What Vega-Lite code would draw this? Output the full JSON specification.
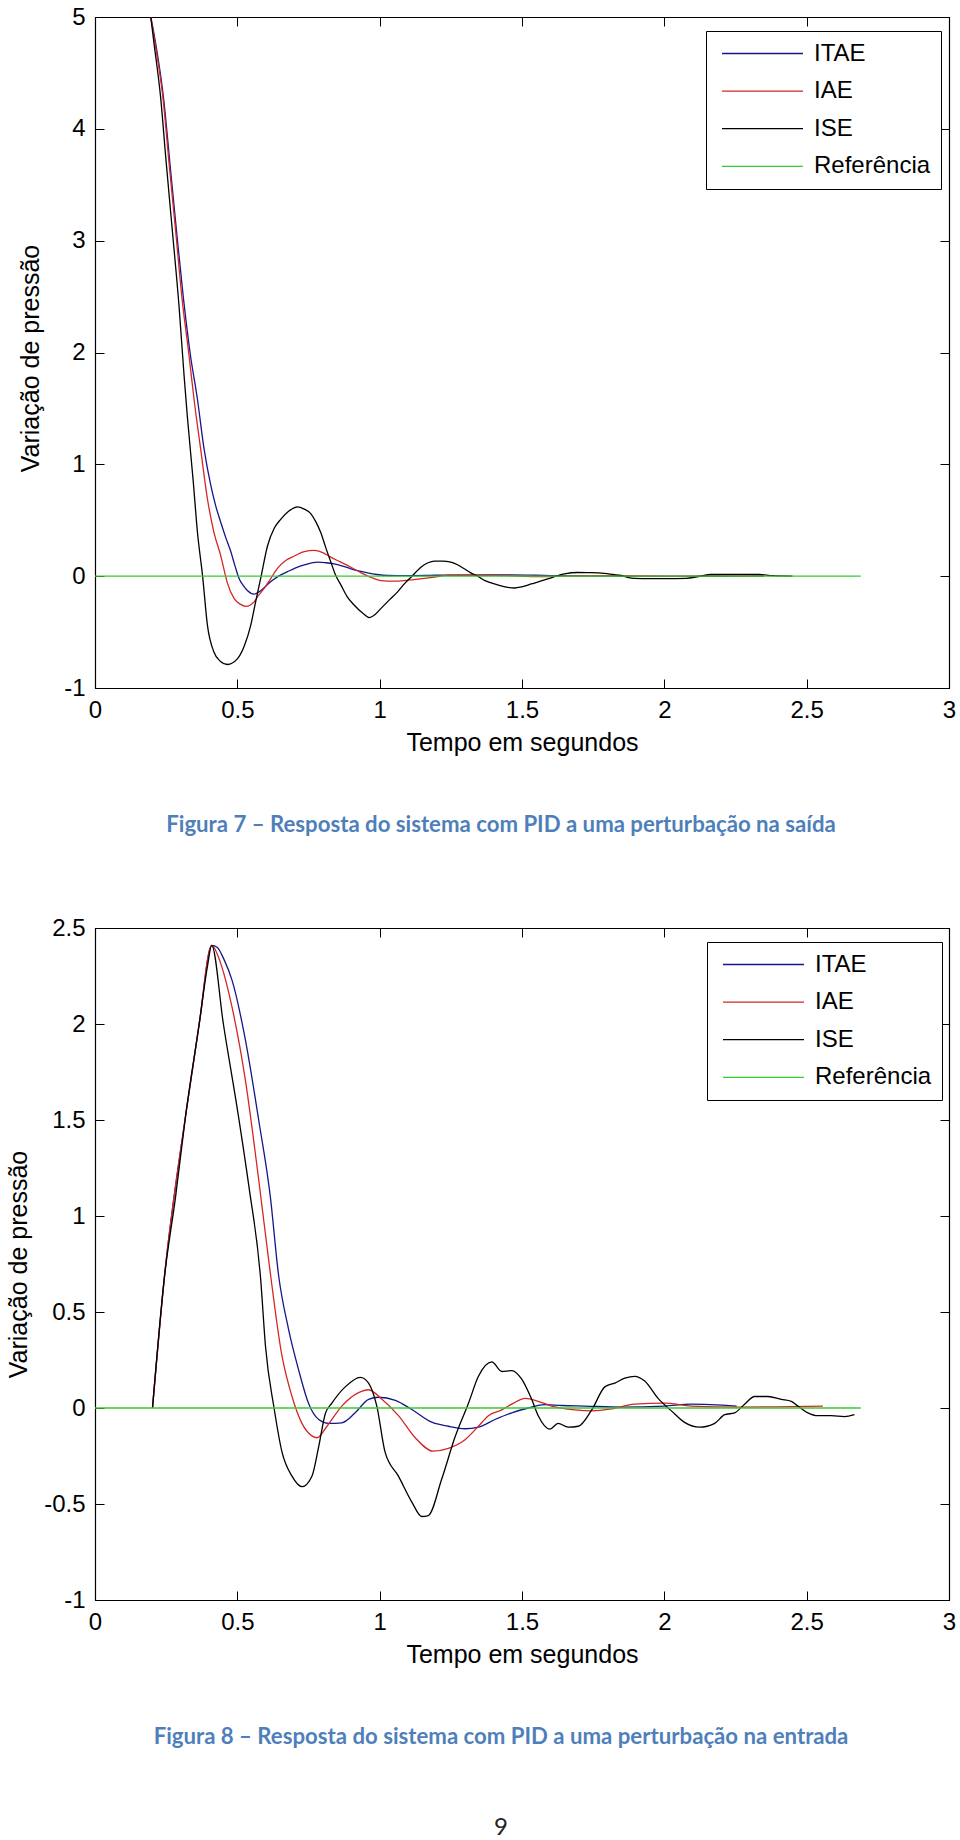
{
  "$schema": "https://vega.github.io/schema/vega-lite/v6.json",
  "background": "white",
  "padding": {"left": 6, "top": 4, "right": 5, "bottom": 0},
  "bounds": "flush",
  "spacing": 240,
  "resolve": {"scale": {"x": "independent", "y": "independent", "color": "independent"}, "legend": {"color": "independent"}, "axis": {"x": "independent", "y": "independent"}},
  "config": {
    "view": {"stroke": "black", "strokeWidth": 1},
    "axis": {"domainColor": "black", "domainWidth": 1.2, "tickColor": "black", "tickWidth": 1, "tickSize": -9, "labelFont": "Liberation Sans", "labelFontSize": 24, "labelColor": "black", "labelPadding": 19, "titleFont": "Liberation Sans", "titleFontSize": 25, "titleFontWeight": "normal", "titleColor": "black", "grid": false},
    "title": {"font": "Lato", "fontSize": 22.2, "fontWeight": "bold", "color": "#4f7fbb", "subtitleFont": "Lato", "subtitleFontSize": 24, "subtitleColor": "#222222"},
    "line": {"strokeWidth": 1.3}
  },
  "datasets": {
    "fig7": [
      {"serie": "ITAE", "t": 0.196, "v": 5.0}, {"serie": "ITAE", "t": 0.214, "v": 4.75}, {"serie": "ITAE", "t": 0.241, "v": 4.27}, {"serie": "ITAE", "t": 0.264, "v": 3.67}, {"serie": "ITAE", "t": 0.287, "v": 3.07}, {"serie": "ITAE", "t": 0.31, "v": 2.5}, {"serie": "ITAE", "t": 0.335, "v": 1.98}, {"serie": "ITAE", "t": 0.36, "v": 1.58}, {"serie": "ITAE", "t": 0.383, "v": 1.14}, {"serie": "ITAE", "t": 0.407, "v": 0.81}, {"serie": "ITAE", "t": 0.425, "v": 0.62}, {"serie": "ITAE", "t": 0.442, "v": 0.48}, {"serie": "ITAE", "t": 0.46, "v": 0.34}, {"serie": "ITAE", "t": 0.477, "v": 0.22}, {"serie": "ITAE", "t": 0.492, "v": 0.09}, {"serie": "ITAE", "t": 0.506, "v": -0.02}, {"serie": "ITAE", "t": 0.52, "v": -0.08}, {"serie": "ITAE", "t": 0.536, "v": -0.13}, {"serie": "ITAE", "t": 0.559, "v": -0.16}, {"serie": "ITAE", "t": 0.582, "v": -0.13}, {"serie": "ITAE", "t": 0.6, "v": -0.09}, {"serie": "ITAE", "t": 0.617, "v": -0.05}, {"serie": "ITAE", "t": 0.645, "v": 0.0}, {"serie": "ITAE", "t": 0.676, "v": 0.04}, {"serie": "ITAE", "t": 0.705, "v": 0.075}, {"serie": "ITAE", "t": 0.735, "v": 0.1}, {"serie": "ITAE", "t": 0.782, "v": 0.125}, {"serie": "ITAE", "t": 0.81, "v": 0.12}, {"serie": "ITAE", "t": 0.84, "v": 0.11}, {"serie": "ITAE", "t": 0.87, "v": 0.09}, {"serie": "ITAE", "t": 0.899, "v": 0.066}, {"serie": "ITAE", "t": 0.93, "v": 0.045}, {"serie": "ITAE", "t": 0.957, "v": 0.03}, {"serie": "ITAE", "t": 0.99, "v": 0.015}, {"serie": "ITAE", "t": 1.028, "v": 0.006}, {"serie": "ITAE", "t": 1.1, "v": 0.004}, {"serie": "ITAE", "t": 1.2, "v": 0.008}, {"serie": "ITAE", "t": 1.34, "v": 0.01}, {"serie": "ITAE", "t": 1.46, "v": 0.012}, {"serie": "ITAE", "t": 1.6, "v": 0.005}, {"serie": "ITAE", "t": 1.8, "v": 0.0}, {"serie": "ITAE", "t": 2.0, "v": -0.002}, {"serie": "ITAE", "t": 2.35, "v": 0.0},
      {"serie": "IAE", "t": 0.196, "v": 5.0}, {"serie": "IAE", "t": 0.212, "v": 4.75}, {"serie": "IAE", "t": 0.239, "v": 4.27}, {"serie": "IAE", "t": 0.261, "v": 3.67}, {"serie": "IAE", "t": 0.284, "v": 3.07}, {"serie": "IAE", "t": 0.305, "v": 2.5}, {"serie": "IAE", "t": 0.33, "v": 1.98}, {"serie": "IAE", "t": 0.348, "v": 1.58}, {"serie": "IAE", "t": 0.371, "v": 1.14}, {"serie": "IAE", "t": 0.395, "v": 0.69}, {"serie": "IAE", "t": 0.418, "v": 0.39}, {"serie": "IAE", "t": 0.442, "v": 0.18}, {"serie": "IAE", "t": 0.455, "v": 0.04}, {"serie": "IAE", "t": 0.465, "v": -0.06}, {"serie": "IAE", "t": 0.489, "v": -0.2}, {"serie": "IAE", "t": 0.51, "v": -0.25}, {"serie": "IAE", "t": 0.53, "v": -0.27}, {"serie": "IAE", "t": 0.559, "v": -0.23}, {"serie": "IAE", "t": 0.575, "v": -0.17}, {"serie": "IAE", "t": 0.594, "v": -0.11}, {"serie": "IAE", "t": 0.615, "v": -0.03}, {"serie": "IAE", "t": 0.641, "v": 0.07}, {"serie": "IAE", "t": 0.67, "v": 0.14}, {"serie": "IAE", "t": 0.7, "v": 0.18}, {"serie": "IAE", "t": 0.735, "v": 0.22}, {"serie": "IAE", "t": 0.77, "v": 0.23}, {"serie": "IAE", "t": 0.8, "v": 0.21}, {"serie": "IAE", "t": 0.828, "v": 0.17}, {"serie": "IAE", "t": 0.86, "v": 0.13}, {"serie": "IAE", "t": 0.899, "v": 0.08}, {"serie": "IAE", "t": 0.935, "v": 0.03}, {"serie": "IAE", "t": 0.969, "v": -0.01}, {"serie": "IAE", "t": 1.004, "v": -0.04}, {"serie": "IAE", "t": 1.05, "v": -0.045}, {"serie": "IAE", "t": 1.086, "v": -0.04}, {"serie": "IAE", "t": 1.12, "v": -0.03}, {"serie": "IAE", "t": 1.157, "v": -0.02}, {"serie": "IAE", "t": 1.2, "v": -0.005}, {"serie": "IAE", "t": 1.24, "v": 0.01}, {"serie": "IAE", "t": 1.3, "v": 0.012}, {"serie": "IAE", "t": 1.35, "v": 0.01}, {"serie": "IAE", "t": 1.45, "v": 0.005}, {"serie": "IAE", "t": 1.55, "v": -0.003}, {"serie": "IAE", "t": 1.65, "v": 0.0}, {"serie": "IAE", "t": 1.8, "v": 0.004}, {"serie": "IAE", "t": 2.0, "v": 0.0}, {"serie": "IAE", "t": 2.2, "v": 0.002}, {"serie": "IAE", "t": 2.35, "v": 0.0},
      {"serie": "ISE", "t": 0.196, "v": 5.0}, {"serie": "ISE", "t": 0.207, "v": 4.77}, {"serie": "ISE", "t": 0.231, "v": 4.27}, {"serie": "ISE", "t": 0.248, "v": 3.76}, {"serie": "ISE", "t": 0.272, "v": 3.08}, {"serie": "ISE", "t": 0.295, "v": 2.42}, {"serie": "ISE", "t": 0.313, "v": 1.79}, {"serie": "ISE", "t": 0.325, "v": 1.41}, {"serie": "ISE", "t": 0.345, "v": 0.85}, {"serie": "ISE", "t": 0.36, "v": 0.39}, {"serie": "ISE", "t": 0.378, "v": 0.0}, {"serie": "ISE", "t": 0.395, "v": -0.44}, {"serie": "ISE", "t": 0.418, "v": -0.68}, {"serie": "ISE", "t": 0.44, "v": -0.76}, {"serie": "ISE", "t": 0.465, "v": -0.79}, {"serie": "ISE", "t": 0.5, "v": -0.74}, {"serie": "ISE", "t": 0.525, "v": -0.62}, {"serie": "ISE", "t": 0.547, "v": -0.44}, {"serie": "ISE", "t": 0.565, "v": -0.22}, {"serie": "ISE", "t": 0.582, "v": -0.02}, {"serie": "ISE", "t": 0.606, "v": 0.27}, {"serie": "ISE", "t": 0.63, "v": 0.43}, {"serie": "ISE", "t": 0.653, "v": 0.51}, {"serie": "ISE", "t": 0.68, "v": 0.58}, {"serie": "ISE", "t": 0.711, "v": 0.62}, {"serie": "ISE", "t": 0.735, "v": 0.6}, {"serie": "ISE", "t": 0.758, "v": 0.56}, {"serie": "ISE", "t": 0.775, "v": 0.49}, {"serie": "ISE", "t": 0.793, "v": 0.39}, {"serie": "ISE", "t": 0.81, "v": 0.26}, {"serie": "ISE", "t": 0.828, "v": 0.13}, {"serie": "ISE", "t": 0.845, "v": 0.01}, {"serie": "ISE", "t": 0.864, "v": -0.08}, {"serie": "ISE", "t": 0.885, "v": -0.18}, {"serie": "ISE", "t": 0.911, "v": -0.26}, {"serie": "ISE", "t": 0.94, "v": -0.33}, {"serie": "ISE", "t": 0.963, "v": -0.37}, {"serie": "ISE", "t": 0.985, "v": -0.34}, {"serie": "ISE", "t": 1.004, "v": -0.29}, {"serie": "ISE", "t": 1.035, "v": -0.21}, {"serie": "ISE", "t": 1.063, "v": -0.14}, {"serie": "ISE", "t": 1.09, "v": -0.06}, {"serie": "ISE", "t": 1.11, "v": -0.01}, {"serie": "ISE", "t": 1.145, "v": 0.08}, {"serie": "ISE", "t": 1.17, "v": 0.12}, {"serie": "ISE", "t": 1.192, "v": 0.135}, {"serie": "ISE", "t": 1.22, "v": 0.135}, {"serie": "ISE", "t": 1.25, "v": 0.126}, {"serie": "ISE", "t": 1.275, "v": 0.1}, {"serie": "ISE", "t": 1.297, "v": 0.066}, {"serie": "ISE", "t": 1.32, "v": 0.03}, {"serie": "ISE", "t": 1.344, "v": 0.0}, {"serie": "ISE", "t": 1.37, "v": -0.04}, {"serie": "ISE", "t": 1.403, "v": -0.07}, {"serie": "ISE", "t": 1.44, "v": -0.095}, {"serie": "ISE", "t": 1.473, "v": -0.106}, {"serie": "ISE", "t": 1.5, "v": -0.095}, {"serie": "ISE", "t": 1.532, "v": -0.07}, {"serie": "ISE", "t": 1.565, "v": -0.045}, {"serie": "ISE", "t": 1.596, "v": -0.02}, {"serie": "ISE", "t": 1.62, "v": 0.0}, {"serie": "ISE", "t": 1.649, "v": 0.02}, {"serie": "ISE", "t": 1.696, "v": 0.033}, {"serie": "ISE", "t": 1.745, "v": 0.032}, {"serie": "ISE", "t": 1.79, "v": 0.025}, {"serie": "ISE", "t": 1.82, "v": 0.015}, {"serie": "ISE", "t": 1.848, "v": 0.006}, {"serie": "ISE", "t": 1.87, "v": -0.01}, {"serie": "ISE", "t": 1.895, "v": -0.02}, {"serie": "ISE", "t": 1.95, "v": -0.022}, {"serie": "ISE", "t": 2.0, "v": -0.022}, {"serie": "ISE", "t": 2.077, "v": -0.02}, {"serie": "ISE", "t": 2.12, "v": -0.003}, {"serie": "ISE", "t": 2.165, "v": 0.015}, {"serie": "ISE", "t": 2.25, "v": 0.016}, {"serie": "ISE", "t": 2.335, "v": 0.015}, {"serie": "ISE", "t": 2.38, "v": 0.004}, {"serie": "ISE", "t": 2.45, "v": 0.0},
      {"serie": "Referência", "t": 0.0, "v": 0.0}, {"serie": "Referência", "t": 2.69, "v": 0.0}
    ],
    "fig8": [
      {"serie": "ITAE", "t": 0.202, "v": 0.0}, {"serie": "ITAE", "t": 0.243, "v": 0.67}, {"serie": "ITAE", "t": 0.319, "v": 1.53}, {"serie": "ITAE", "t": 0.366, "v": 2.0}, {"serie": "ITAE", "t": 0.41, "v": 2.41}, {"serie": "ITAE", "t": 0.429, "v": 2.4}, {"serie": "ITAE", "t": 0.455, "v": 2.33}, {"serie": "ITAE", "t": 0.481, "v": 2.23}, {"serie": "ITAE", "t": 0.528, "v": 1.92}, {"serie": "ITAE", "t": 0.575, "v": 1.5}, {"serie": "ITAE", "t": 0.616, "v": 1.1}, {"serie": "ITAE", "t": 0.645, "v": 0.69}, {"serie": "ITAE", "t": 0.68, "v": 0.41}, {"serie": "ITAE", "t": 0.715, "v": 0.2}, {"serie": "ITAE", "t": 0.75, "v": 0.025}, {"serie": "ITAE", "t": 0.786, "v": -0.06}, {"serie": "ITAE", "t": 0.821, "v": -0.08}, {"serie": "ITAE", "t": 0.867, "v": -0.077}, {"serie": "ITAE", "t": 0.914, "v": -0.025}, {"serie": "ITAE", "t": 0.961, "v": 0.045}, {"serie": "ITAE", "t": 0.996, "v": 0.056}, {"serie": "ITAE", "t": 1.055, "v": 0.04}, {"serie": "ITAE", "t": 1.113, "v": -0.008}, {"serie": "ITAE", "t": 1.183, "v": -0.074}, {"serie": "ITAE", "t": 1.241, "v": -0.095}, {"serie": "ITAE", "t": 1.3, "v": -0.108}, {"serie": "ITAE", "t": 1.347, "v": -0.1}, {"serie": "ITAE", "t": 1.405, "v": -0.06}, {"serie": "ITAE", "t": 1.464, "v": -0.025}, {"serie": "ITAE", "t": 1.522, "v": 0.0}, {"serie": "ITAE", "t": 1.58, "v": 0.018}, {"serie": "ITAE", "t": 1.639, "v": 0.013}, {"serie": "ITAE", "t": 1.72, "v": 0.01}, {"serie": "ITAE", "t": 1.85, "v": 0.005}, {"serie": "ITAE", "t": 2.0, "v": 0.01}, {"serie": "ITAE", "t": 2.095, "v": 0.02}, {"serie": "ITAE", "t": 2.254, "v": 0.01},
      {"serie": "IAE", "t": 0.202, "v": 0.0}, {"serie": "IAE", "t": 0.243, "v": 0.67}, {"serie": "IAE", "t": 0.319, "v": 1.53}, {"serie": "IAE", "t": 0.366, "v": 2.0}, {"serie": "IAE", "t": 0.41, "v": 2.41}, {"serie": "IAE", "t": 0.417, "v": 2.4}, {"serie": "IAE", "t": 0.445, "v": 2.3}, {"serie": "IAE", "t": 0.481, "v": 2.09}, {"serie": "IAE", "t": 0.528, "v": 1.71}, {"serie": "IAE", "t": 0.575, "v": 1.19}, {"serie": "IAE", "t": 0.611, "v": 0.76}, {"serie": "IAE", "t": 0.657, "v": 0.27}, {"serie": "IAE", "t": 0.692, "v": 0.06}, {"serie": "IAE", "t": 0.727, "v": -0.08}, {"serie": "IAE", "t": 0.762, "v": -0.145}, {"serie": "IAE", "t": 0.78, "v": -0.155}, {"serie": "IAE", "t": 0.815, "v": -0.095}, {"serie": "IAE", "t": 0.867, "v": 0.01}, {"serie": "IAE", "t": 0.926, "v": 0.08}, {"serie": "IAE", "t": 0.961, "v": 0.095}, {"serie": "IAE", "t": 1.008, "v": 0.045}, {"serie": "IAE", "t": 1.066, "v": -0.04}, {"serie": "IAE", "t": 1.125, "v": -0.155}, {"serie": "IAE", "t": 1.188, "v": -0.225}, {"serie": "IAE", "t": 1.241, "v": -0.21}, {"serie": "IAE", "t": 1.3, "v": -0.165}, {"serie": "IAE", "t": 1.347, "v": -0.095}, {"serie": "IAE", "t": 1.382, "v": -0.04}, {"serie": "IAE", "t": 1.429, "v": -0.01}, {"serie": "IAE", "t": 1.464, "v": 0.02}, {"serie": "IAE", "t": 1.511, "v": 0.05}, {"serie": "IAE", "t": 1.557, "v": 0.035}, {"serie": "IAE", "t": 1.604, "v": 0.01}, {"serie": "IAE", "t": 1.686, "v": -0.01}, {"serie": "IAE", "t": 1.745, "v": -0.015}, {"serie": "IAE", "t": 1.815, "v": -0.005}, {"serie": "IAE", "t": 1.896, "v": 0.02}, {"serie": "IAE", "t": 2.001, "v": 0.025}, {"serie": "IAE", "t": 2.095, "v": 0.01}, {"serie": "IAE", "t": 2.259, "v": 0.005}, {"serie": "IAE", "t": 2.39, "v": 0.006}, {"serie": "IAE", "t": 2.557, "v": 0.01},
      {"serie": "ISE", "t": 0.202, "v": 0.0}, {"serie": "ISE", "t": 0.243, "v": 0.67}, {"serie": "ISE", "t": 0.283, "v": 1.1}, {"serie": "ISE", "t": 0.319, "v": 1.53}, {"serie": "ISE", "t": 0.366, "v": 2.0}, {"serie": "ISE", "t": 0.395, "v": 2.3}, {"serie": "ISE", "t": 0.41, "v": 2.41}, {"serie": "ISE", "t": 0.451, "v": 2.0}, {"serie": "ISE", "t": 0.506, "v": 1.5}, {"serie": "ISE", "t": 0.541, "v": 1.15}, {"serie": "ISE", "t": 0.582, "v": 0.67}, {"serie": "ISE", "t": 0.599, "v": 0.32}, {"serie": "ISE", "t": 0.629, "v": 0.0}, {"serie": "ISE", "t": 0.657, "v": -0.23}, {"serie": "ISE", "t": 0.692, "v": -0.355}, {"serie": "ISE", "t": 0.727, "v": -0.41}, {"serie": "ISE", "t": 0.762, "v": -0.355}, {"serie": "ISE", "t": 0.786, "v": -0.2}, {"serie": "ISE", "t": 0.809, "v": -0.03}, {"serie": "ISE", "t": 0.832, "v": 0.025}, {"serie": "ISE", "t": 0.879, "v": 0.11}, {"serie": "ISE", "t": 0.932, "v": 0.16}, {"serie": "ISE", "t": 0.961, "v": 0.13}, {"serie": "ISE", "t": 0.99, "v": 0.01}, {"serie": "ISE", "t": 1.019, "v": -0.23}, {"serie": "ISE", "t": 1.066, "v": -0.355}, {"serie": "ISE", "t": 1.113, "v": -0.49}, {"serie": "ISE", "t": 1.148, "v": -0.565}, {"serie": "ISE", "t": 1.171, "v": -0.56}, {"serie": "ISE", "t": 1.218, "v": -0.37}, {"serie": "ISE", "t": 1.265, "v": -0.15}, {"serie": "ISE", "t": 1.312, "v": 0.025}, {"serie": "ISE", "t": 1.347, "v": 0.165}, {"serie": "ISE", "t": 1.394, "v": 0.24}, {"serie": "ISE", "t": 1.429, "v": 0.19}, {"serie": "ISE", "t": 1.464, "v": 0.195}, {"serie": "ISE", "t": 1.499, "v": 0.15}, {"serie": "ISE", "t": 1.534, "v": 0.045}, {"serie": "ISE", "t": 1.557, "v": -0.04}, {"serie": "ISE", "t": 1.598, "v": -0.11}, {"serie": "ISE", "t": 1.627, "v": -0.08}, {"serie": "ISE", "t": 1.662, "v": -0.1}, {"serie": "ISE", "t": 1.698, "v": -0.095}, {"serie": "ISE", "t": 1.745, "v": -0.01}, {"serie": "ISE", "t": 1.791, "v": 0.11}, {"serie": "ISE", "t": 1.826, "v": 0.13}, {"serie": "ISE", "t": 1.861, "v": 0.155}, {"serie": "ISE", "t": 1.896, "v": 0.165}, {"serie": "ISE", "t": 1.931, "v": 0.14}, {"serie": "ISE", "t": 1.978, "v": 0.05}, {"serie": "ISE", "t": 2.025, "v": -0.015}, {"serie": "ISE", "t": 2.071, "v": -0.075}, {"serie": "ISE", "t": 2.124, "v": -0.1}, {"serie": "ISE", "t": 2.177, "v": -0.08}, {"serie": "ISE", "t": 2.212, "v": -0.035}, {"serie": "ISE", "t": 2.247, "v": -0.025}, {"serie": "ISE", "t": 2.282, "v": 0.02}, {"serie": "ISE", "t": 2.317, "v": 0.06}, {"serie": "ISE", "t": 2.364, "v": 0.06}, {"serie": "ISE", "t": 2.411, "v": 0.045}, {"serie": "ISE", "t": 2.446, "v": 0.035}, {"serie": "ISE", "t": 2.469, "v": 0.01}, {"serie": "ISE", "t": 2.504, "v": -0.025}, {"serie": "ISE", "t": 2.539, "v": -0.04}, {"serie": "ISE", "t": 2.586, "v": -0.04}, {"serie": "ISE", "t": 2.633, "v": -0.045}, {"serie": "ISE", "t": 2.668, "v": -0.035},
      {"serie": "Referência", "t": 0.0, "v": 0.0}, {"serie": "Referência", "t": 2.69, "v": 0.0}
    ]
  },
  "vconcat": [
    {
      "width": 854,
      "height": 671,
      "data": {"name": "fig7"},
      "title": {"text": "Figura 7 – Resposta do sistema com PID a uma perturbação na saída", "orient": "bottom", "frame": "group", "anchor": "middle", "dx": -21, "offset": 59},
      "resolve": {"axis": {"x": "independent", "y": "independent"}},
      "layer": [
        {
          "transform": [{"filter": "datum.serie !== 'Referência'"}],
          "mark": {"type": "line", "clip": true, "interpolate": "monotone", "strokeWidth": 1.3},
          "encoding": {
            "x": {"field": "t", "type": "quantitative", "scale": {"domain": [0, 3], "nice": false, "zero": false}, "axis": {"orient": "bottom", "title": "Tempo em segundos", "values": [0, 0.5, 1, 1.5, 2, 2.5, 3], "labelExpr": "toString(datum.value)", "titlePadding": 8, "labelFlush": false}},
            "y": {"field": "v", "type": "quantitative", "scale": {"domain": [-1, 5], "nice": false, "zero": false}, "axis": {"orient": "left", "title": "Variação de pressão", "values": [-1, 0, 1, 2, 3, 4, 5], "labelExpr": "toString(datum.value)", "titlePadding": 20, "titleY": 341, "labelFlush": false}},
            "color": {"field": "serie", "type": "nominal", "scale": {"domain": ["ITAE", "IAE", "ISE", "Referência"], "range": ["#16168a", "#d42626", "#000000", "#33cc33"]}, "legend": {"orient": "none", "legendX": 611, "legendY": 14, "title": null, "symbolType": "stroke", "symbolSize": 6561, "symbolStrokeWidth": 1.3, "symbolOffset": 5, "labelFont": "Liberation Sans", "labelFontSize": 24, "labelColor": "black", "labelLimit": 300, "labelOffset": 10, "fillColor": "white", "strokeColor": "black", "padding": 10, "rowPadding": 12.6, "clipHeight": 25}}
          }
        },
        {
          "transform": [{"filter": "datum.serie === 'Referência'"}],
          "mark": {"type": "line", "clip": true, "color": "#33cc33", "strokeWidth": 1.3},
          "encoding": {
            "x": {"field": "t", "type": "quantitative", "axis": {"orient": "top", "title": null, "labels": false, "values": [0, 0.5, 1, 1.5, 2, 2.5, 3]}},
            "y": {"field": "v", "type": "quantitative", "axis": {"orient": "right", "title": null, "labels": false, "values": [-1, 0, 1, 2, 3, 4, 5]}}
          }
        }
      ]
    },
    {
      "width": 854,
      "height": 672,
      "data": {"name": "fig8"},
      "title": {"text": "Figura 8 – Resposta do sistema com PID a uma perturbação na entrada", "subtitle": "9", "subtitlePadding": 68, "orient": "bottom", "frame": "group", "anchor": "middle", "dx": -21, "offset": 59},
      "resolve": {"axis": {"x": "independent", "y": "independent"}},
      "layer": [
        {
          "transform": [{"filter": "datum.serie !== 'Referência'"}],
          "mark": {"type": "line", "clip": true, "interpolate": "monotone", "strokeWidth": 1.3},
          "encoding": {
            "x": {"field": "t", "type": "quantitative", "scale": {"domain": [0, 3], "nice": false, "zero": false}, "axis": {"orient": "bottom", "title": "Tempo em segundos", "values": [0, 0.5, 1, 1.5, 2, 2.5, 3], "labelExpr": "toString(datum.value)", "titlePadding": 8, "labelFlush": false}},
            "y": {"field": "v", "type": "quantitative", "scale": {"domain": [-1, 2.5], "nice": false, "zero": false}, "axis": {"orient": "left", "title": "Variação de pressão", "values": [-1, -0.5, 0, 0.5, 1, 1.5, 2, 2.5], "labelExpr": "toString(datum.value)", "titlePadding": 12, "labelFlush": false}},
            "color": {"field": "serie", "type": "nominal", "scale": {"domain": ["ITAE", "IAE", "ISE", "Referência"], "range": ["#16168a", "#d42626", "#000000", "#33cc33"]}, "legend": {"orient": "none", "legendX": 612, "legendY": 14, "title": null, "symbolType": "stroke", "symbolSize": 6561, "symbolStrokeWidth": 1.3, "symbolOffset": 5, "labelFont": "Liberation Sans", "labelFontSize": 24, "labelColor": "black", "labelLimit": 300, "labelOffset": 10, "fillColor": "white", "strokeColor": "black", "padding": 10, "rowPadding": 12.6, "clipHeight": 25}}
          }
        },
        {
          "transform": [{"filter": "datum.serie === 'Referência'"}],
          "mark": {"type": "line", "clip": true, "color": "#33cc33", "strokeWidth": 1.3},
          "encoding": {
            "x": {"field": "t", "type": "quantitative", "axis": {"orient": "top", "title": null, "labels": false, "values": [0, 0.5, 1, 1.5, 2, 2.5, 3]}},
            "y": {"field": "v", "type": "quantitative", "axis": {"orient": "right", "title": null, "labels": false, "values": [-1, -0.5, 0, 0.5, 1, 1.5, 2, 2.5]}}
          }
        }
      ]
    }
  ]
}
